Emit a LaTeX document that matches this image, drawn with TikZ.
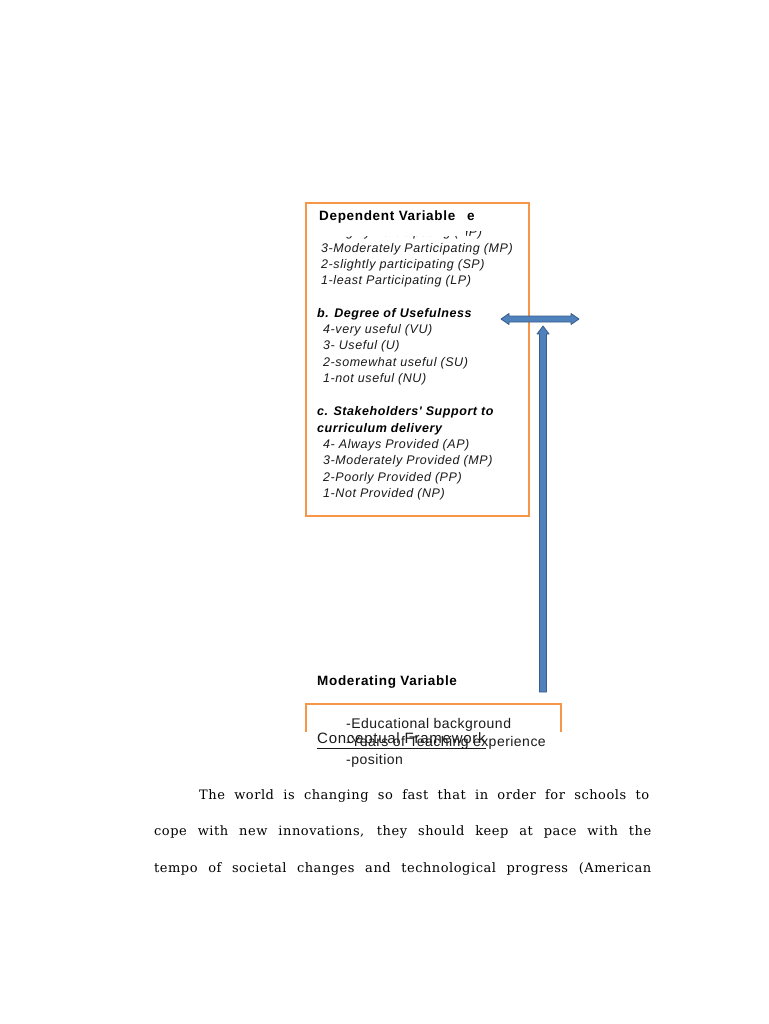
\documentclass[tikz,border=0pt]{standalone}
\usepackage{fontspec}
\setmainfont{Liberation Sans}
\newfontfamily\dsans{Liberation Sans}[LetterSpace=4.5]
\newfontfamily\tsans{Liberation Sans}[LetterSpace=5]
\newfontfamily\msans{Liberation Sans}[LetterSpace=3.4]
\newfontfamily\parafont{DejaVu Serif}[LetterSpace=4]
\definecolor{frameorange}{HTML}{F79646}
\definecolor{arrowfill}{HTML}{4F81BD}
\definecolor{arrowline}{HTML}{385D8A}
\definecolor{inktext}{HTML}{1A1A1A}
\tikzset{
  txt/.style={anchor=west, inner sep=0pt, font=\dsans\fontsize{12.5}{14}\selectfont\itshape, text=inktext},
  head/.style={anchor=west, inner sep=0pt, font=\dsans\fontsize{12.5}{14}\selectfont\bfseries\itshape, text=black},
  title/.style={anchor=west, inner sep=0pt, font=\tsans\fontsize{13.5}{15}\selectfont\bfseries, text=black},
  modtxt/.style={anchor=west, inner sep=0pt, font=\msans\fontsize{14}{16}\selectfont, text=inktext},
  para/.style={anchor=west, inner sep=0pt, font=\parafont\fontsize{13}{15}\selectfont, text=black},
  frame/.style={draw=frameorange, line width=1.6pt},
  blockarrow/.style={fill=arrowfill, draw=arrowline, line width=0.8pt, line join=round}
}
\begin{document}
\begin{tikzpicture}[x=1pt,y=-1pt]
\useasboundingbox (0,0) rectangle (768,1024);
\fill[white] (0,0) rectangle (768,1024);

% dependent variable box
\draw[frame] (306,203) rectangle (529,516);
% hidden first line and its cover
\node[txt] (l0) at (321,233) {4-Highly Participating (HP)};
\fill[white] (308,205) rectangle (466,236);
\fill[white] (466,205) rectangle (527,231);
\node[title] (dv) at (319,217) {Dependent Variable};
\node[title] (dve) at (467,217) {e};

\node[txt] (a3) at (321,249) {3-Moderately Participating (MP)};
\node[txt] (a2) at (321,265) {2-slightly participating (SP)};
\node[txt] (a1) at (321,281) {1-least Participating (LP)};

\node[head] (bh) at (317,314) {b. Degree of Usefulness};
\node[txt] (b4) at (323,330) {4-very useful (VU)};
\node[txt] (b3) at (323,346) {3- Useful (U)};
\node[txt] (b2) at (323,363) {2-somewhat useful (SU)};
\node[txt] (b1) at (323,379) {1-not useful (NU)};

\node[head] (ch1) at (317,412) {c. Stakeholders' Support to};
\node[head] (ch2) at (317,429) {curriculum delivery};
\node[txt] (c4) at (323,445) {4- Always Provided (AP)};
\node[txt] (c3) at (323,461) {3-Moderately Provided (MP)};
\node[txt] (c2) at (323,478) {2-Poorly Provided (PP)};
\node[txt] (c1) at (323,494) {1-Not Provided (NP)};

% arrows
\coordinate (hl) at (501,319);
\coordinate (hr) at (579,319);
\draw[blockarrow] (hl) -- ++(8,-5.5) -- ++(0,2.5) -- ++(62,0) -- ++(0,-2.5) -- (hr)
  -- ++(-8,5.5) -- ++(0,-2.5) -- ++(-62,0) -- ++(0,2.5) -- cycle;
\coordinate (vt) at (543,326);
\coordinate (vb) at (543,692);
\draw[blockarrow] (vt) -- ++(6,8) -- ++(-2.5,0) -- ([xshift=3.5pt]vb) -- ([xshift=-3.5pt]vb)
  -- ++(0,-358) -- ++(-2.5,0) -- cycle;

% moderating variable
\node[title] (mv) at (317,682) {Moderating Variable};
\draw[frame] (306,732) -- (306,704) -- (561,704) -- (561,732);
\node[modtxt] (m1) at (346,725) {-Educational background};
\node[modtxt, anchor=east] (m2) at (546,743) {-Years of Teaching experience};
\node[modtxt] (m3) at (346,761) {-position};
\node[modtxt, font=\tsans\fontsize{15}{17}\selectfont] (cf) at (317,741) {\underline{Conceptual Framework}};

% paragraph
\node[para] (p1) at (199,796) {\makebox[450pt][s]{The world is changing so fast that in order for schools to}};
\node[para] (p2) at (154,832) {\makebox[497pt][s]{cope with new innovations, they should keep at pace with the}};
\node[para] (p3) at (154,869) {\makebox[497pt][s]{tempo of societal changes and technological progress (American}};
\end{tikzpicture}
\end{document}
